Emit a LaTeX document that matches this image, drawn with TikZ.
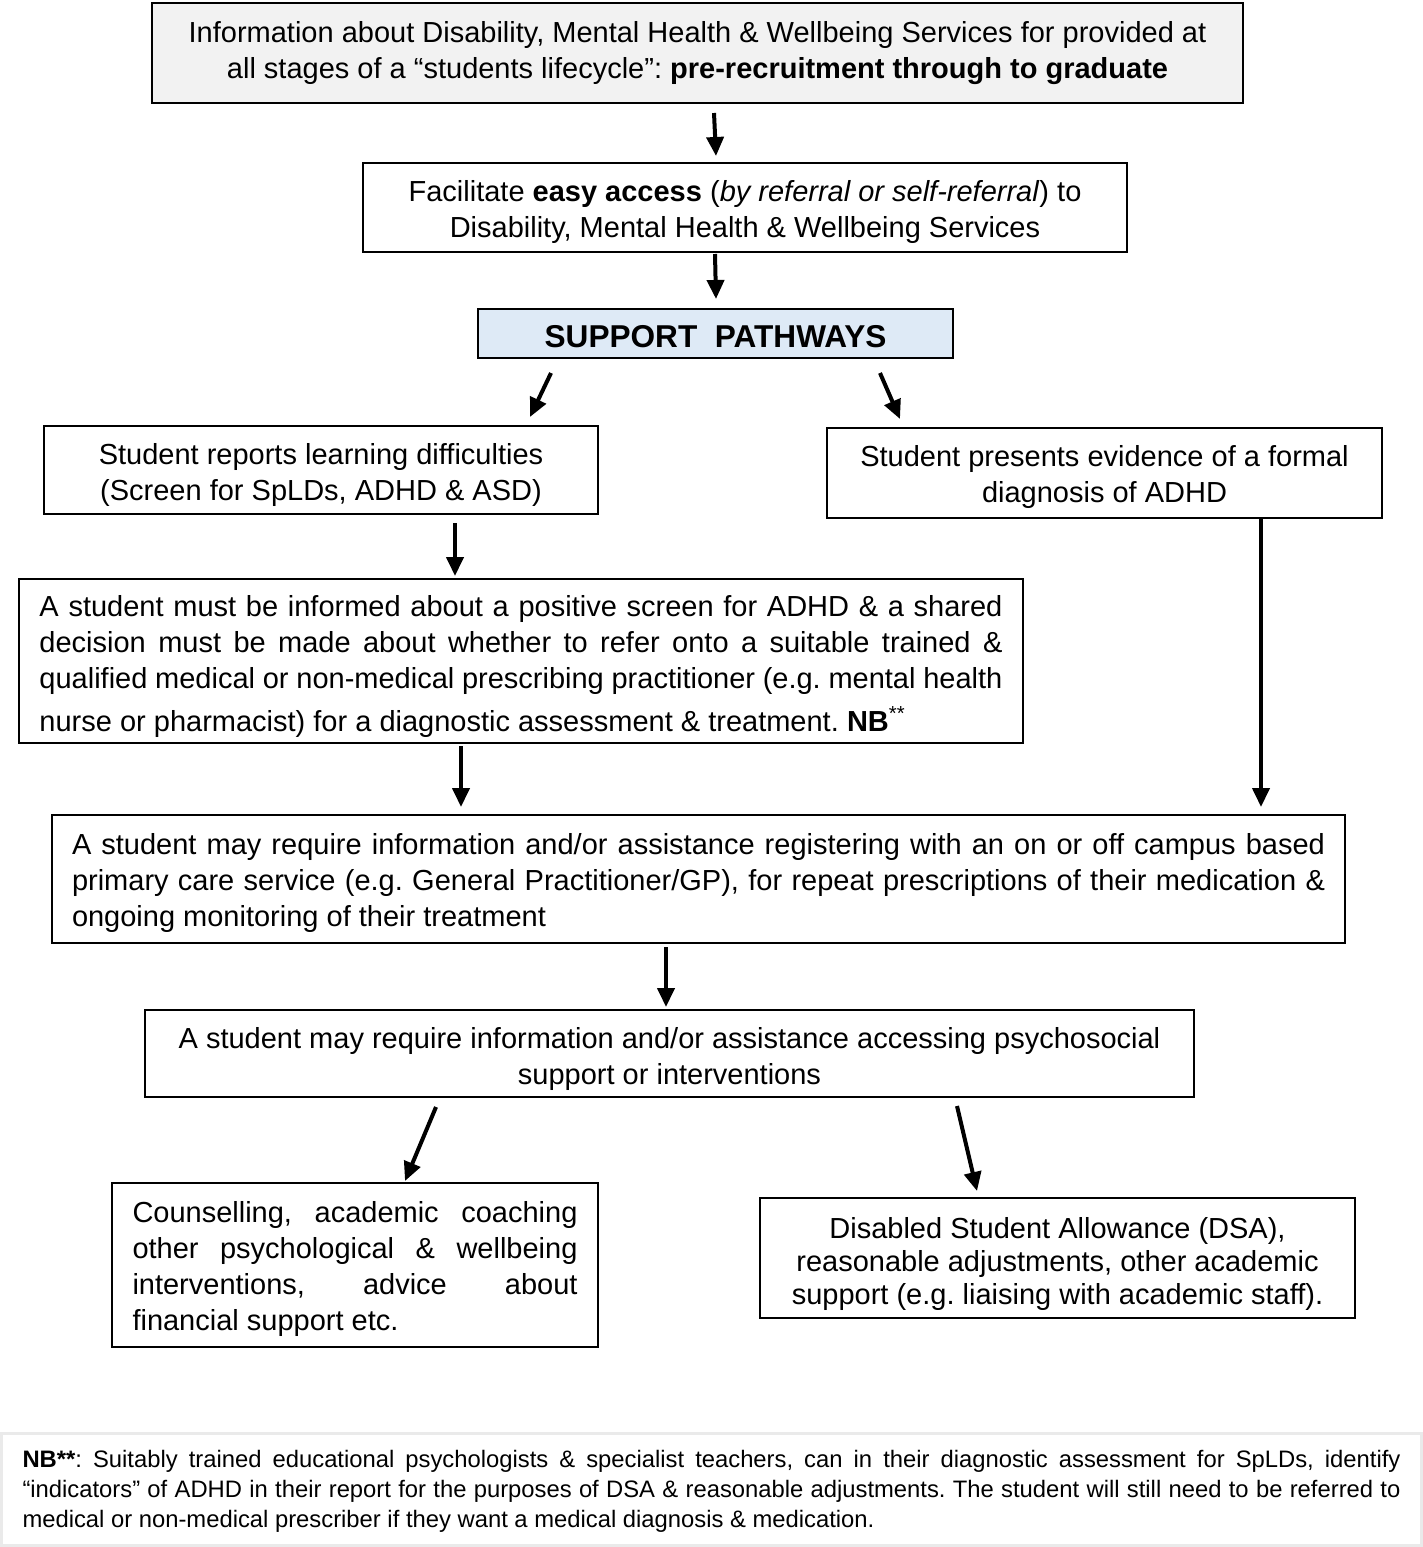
\documentclass[tikz,border=0pt]{standalone}
\usepackage{fontspec}
\setmainfont{Liberation Sans}
\usetikzlibrary{arrows.meta}
\frenchspacing

\definecolor{infogray}{HTML}{F2F2F2}
\definecolor{pathblue}{HTML}{DEEAF6}
\definecolor{notegray}{HTML}{EAEAEA}

% strut that lowers the first line a little
\newcommand{\lift}[1][14.5pt]{\rule{0pt}{#1}}

\tikzset{
  box/.style={draw, line width=1pt, rectangle, inner sep=0pt, align=center,
    font=\fontsize{14.5}{18}\selectfont},
  jbox/.style={box, align=justify},
  arr/.style={line width=2pt, -{Triangle[width=8.5pt,length=9.5pt]}},
}

\begin{document}
\begin{tikzpicture}[x=0.5pt,y=-0.5pt]
  \useasboundingbox (0,0) rectangle (1423,1547);

  % Top of the pathway
  \node[box, fill=infogray, minimum width=545.5pt, minimum height=50pt] (info) at (697.5,53)
    {Information about Disability, Mental Health \& Wellbeing Services for provided at\\
     all stages of a “students lifecycle”: \textbf{pre-recruitment through to graduate}};
  \node[box, minimum width=382pt, minimum height=44.5pt] (access) at (745,207.5)
    {\lift[15.5pt]Facilitate \textbf{easy access} (\textit{by referral or self-referral}) to\\
     Disability, Mental Health \& Wellbeing Services};
  \node[box, fill=pathblue, minimum width=237.5pt, minimum height=24.5pt,
        font=\fontsize{15.8}{18}\selectfont\bfseries] (pathways) at (715.5,333.5)
    {\lift SUPPORT\ \ PATHWAYS};

  % Two routes
  \node[box, minimum width=277pt, minimum height=44pt] (screen) at (321,470)
    {\lift[15.5pt]Student reports learning difficulties\\ (Screen for SpLDs, ADHD \& ASD)};
  \node[box, minimum width=277.5pt, minimum height=45pt] (formal) at (1104.5,473)
    {\lift[15pt]Student presents evidence of a formal\\ diagnosis of ADHD};
  \node[jbox, text width=481.5pt, minimum width=502pt, minimum height=82pt] (inform) at (521,661)
    {\lift[16pt]A student must be informed about a positive screen for ADHD \& a shared\linebreak
     decision must be made about whether to refer onto a suitable trained \&\linebreak
     qualified medical or non-medical prescribing practitioner (e.g. mental health\linebreak
     nurse or pharmacist) for a diagnostic assessment \& treatment. \textbf{NB}\textsuperscript{**}\lift[17pt]};

  % Shared steps
  \node[jbox, text width=626.5pt, minimum width=646.5pt, minimum height=64pt] (primary) at (698.5,879)
    {\lift A student may require information and/or assistance registering with an on or off campus based\linebreak
     primary care service (e.g. General Practitioner/GP), for repeat prescriptions of their medication \&\linebreak
     ongoing monitoring of their treatment};
  \node[box, minimum width=524.5pt, minimum height=43.5pt] (psycho) at (669.5,1053.5)
    {\lift[15.5pt]A student may require information and/or assistance accessing psychosocial\\
     support or interventions};
  \node[jbox, text width=222.5pt, minimum width=243pt, minimum height=82pt] (counsel) at (355,1265)
    {\lift Counselling, academic coaching\linebreak
     other psychological \& wellbeing\linebreak
     interventions, advice about\linebreak
     financial support etc.};
  \node[box, minimum width=297.5pt, minimum height=60pt,
        font=\fontsize{14.5}{16.7}\selectfont] (dsa) at (1057.5,1258)
    {\lift[16.5pt]Disabled Student Allowance (DSA),\\
     reasonable adjustments, other academic\\
     support (e.g. liaising with academic staff).};

  % Footnote
  \node[jbox, draw=notegray, line width=1.5pt, text width=689pt, minimum width=710pt,
        minimum height=56pt, font=\fontsize{11.9}{15}\selectfont] (nbnote) at (711.5,1489.5)
    {\lift[10.5pt]\textbf{NB**}: Suitably trained educational psychologists \& specialist teachers, can in their diagnostic assessment for SpLDs, identify\linebreak
     “indicators” of ADHD in their report for the purposes of DSA \& reasonable adjustments. The student will still need to be referred to\linebreak
     medical or non-medical prescriber if they want a medical diagnosis \& medication.};

  % Arrows
  \draw[arr] ([xshift=8.25pt,yshift=-4.5pt]info.south) -- ([xshift=-14.5pt,yshift=3pt]access.north);
  \draw[arr] ([xshift=-15pt,yshift=-0.5pt]access.south) -- ([xshift=0.25pt,yshift=4.5pt]pathways.north);
  \draw[arr] ([xshift=-82.25pt,yshift=-7pt]pathways.south) -- ([xshift=104.5pt,yshift=4pt]screen.north);
  \draw[arr] ([xshift=82.25pt,yshift=-7pt]pathways.south) -- ([xshift=-102.25pt,yshift=4pt]formal.north);
  \draw[arr] ([xshift=67pt,yshift=-4pt]screen.south) -- ([xshift=-33pt,yshift=1pt]inform.north);
  \draw[arr] ([xshift=-30pt,yshift=-1pt]inform.south) -- ([xshift=-118.75pt,yshift=3.5pt]primary.north);
  \draw[arr] ([xshift=78.25pt]formal.south) -- ([xshift=281.25pt,yshift=3.5pt]primary.north);
  \draw[arr] ([xshift=-16.25pt,yshift=-1.5pt]primary.south) -- ([xshift=-1.75pt,yshift=1pt]psycho.north);
  \draw[arr] ([xshift=-116.75pt,yshift=-4.5pt]psycho.south) -- ([xshift=25pt,yshift=0.5pt]counsel.north);
  \draw[arr] ([xshift=143.75pt,yshift=-4pt]psycho.south) -- ([xshift=-40.25pt,yshift=3pt]dsa.north);

\end{tikzpicture}
\end{document}
